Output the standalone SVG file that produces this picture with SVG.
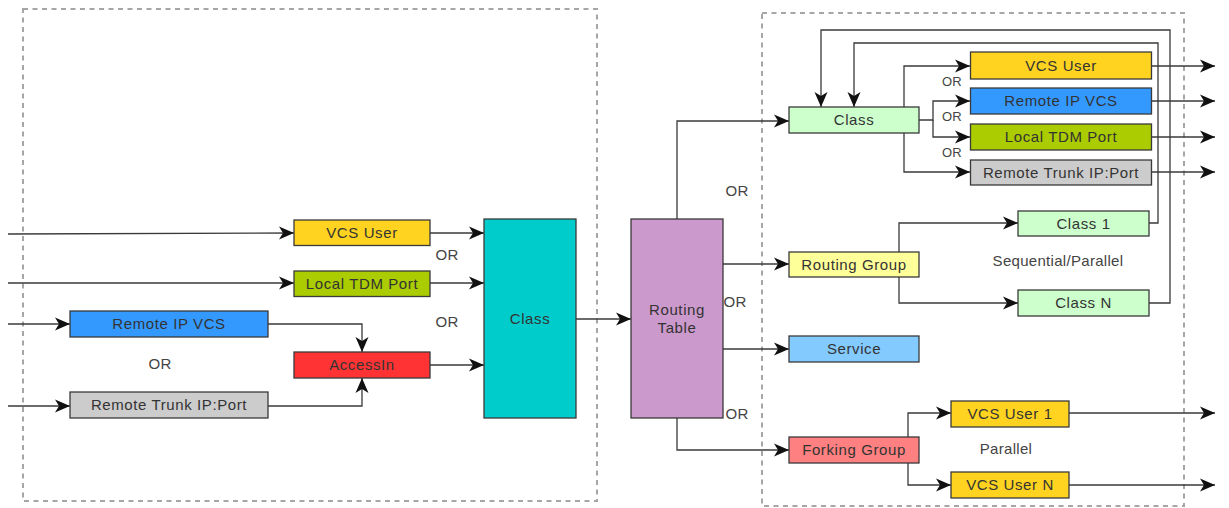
<svg xmlns="http://www.w3.org/2000/svg" width="1229" height="508" viewBox="0 0 1229 508">
  <style>
    .frame { fill: none; stroke: #a6a6a6; stroke-width: 2; stroke-dasharray: 5 4.5; }
    .box { stroke: #3a3a3a; stroke-width: 1.3; }
    .lbl { font-family: "Liberation Sans", Arial, sans-serif; font-size: 15px; fill: #333333; text-anchor: middle; letter-spacing: 0.6px; }
    .note { font-family: "Liberation Sans", Arial, sans-serif; font-size: 15px; fill: #444444; text-anchor: middle; letter-spacing: 0.3px; }
    .small { font-size: 13px; }
    .wire { fill: none; stroke: #3a3a3a; stroke-width: 1.3; }
    .wire.arr { marker-end: url(#head); }
  </style>
  <defs>
    <!-- notched solid arrowhead shared by every connector -->
    <marker id="head" markerUnits="userSpaceOnUse" markerWidth="16" markerHeight="14" refX="15" refY="7" orient="auto">
      <path d="M0,0.5 L15,7 L0,13.5 L4,7 Z" fill="#111111"/>
    </marker>
  </defs>

  <rect width="1229" height="508" fill="#ffffff"/>

  <!-- dashed frames -->
  <rect class="frame" x="23" y="9" width="574" height="492"/>
  <rect class="frame" x="762" y="13" width="422" height="493"/>

  <!-- connectors -->
  <g id="connectors">
    <path class="wire arr" d="M8,234 L294,233"/>
    <path class="wire arr" d="M8,283 H294"/>
    <path class="wire arr" d="M8,324 H70"/>
    <path class="wire arr" d="M8,406 H70"/>
    <path class="wire arr" d="M268,324 H362 V352"/>
    <path class="wire arr" d="M268,406 H362 V378"/>
    <path class="wire arr" d="M430,233 H484"/>
    <path class="wire arr" d="M430,283 H484"/>
    <path class="wire arr" d="M430,365 H484"/>
    <path class="wire arr" d="M576,319 H631"/>

    <path class="wire arr" d="M677,219 V121 H789"/>
    <path class="wire arr" d="M723,264 H789"/>
    <path class="wire arr" d="M723,349 H789"/>
    <path class="wire arr" d="M677,418 V450 H789"/>

    <path class="wire arr" d="M904,107 V66 H970"/>
    <path class="wire arr" d="M919,120 H933 V101 H970"/>
    <path class="wire arr" d="M933,120 V137 H970"/>
    <path class="wire arr" d="M904,133 V172 H970"/>

    <path class="wire arr" d="M1152,66 H1215"/>
    <path class="wire arr" d="M1152,101 H1215"/>
    <path class="wire arr" d="M1152,137 H1215"/>
    <path class="wire arr" d="M1152,172 H1215"/>

    <path class="wire arr" d="M1149,223 H1158 V43 H854 V107"/>
    <path class="wire arr" d="M1149,303 H1170 V30 H821 V107"/>

    <path class="wire arr" d="M899,252 V223 H1018"/>
    <path class="wire arr" d="M899,277 V303 H1018"/>

    <path class="wire arr" d="M908,437 V413 H951"/>
    <path class="wire arr" d="M908,463 V485 H951"/>
    <path class="wire arr" d="M1069,413 H1215"/>
    <path class="wire arr" d="M1069,485 H1215"/>
  </g>

  <!-- left side nodes -->
  <g id="in-vcs-user">
    <rect class="box" x="294" y="220" width="136" height="25.5" fill="#ffd320"/>
    <text class="lbl" x="362" y="238">VCS User</text>
  </g>
  <g id="in-local-tdm">
    <rect class="box" x="294" y="271" width="136" height="25.5" fill="#aacc00"/>
    <text class="lbl" x="362" y="289">Local TDM Port</text>
  </g>
  <g id="in-remote-ip">
    <rect class="box" x="70" y="311" width="198" height="26" fill="#3399ff"/>
    <text class="lbl" x="169" y="329">Remote IP VCS</text>
  </g>
  <g id="in-remote-trunk">
    <rect class="box" x="70" y="392" width="198" height="26" fill="#cccccc"/>
    <text class="lbl" x="169" y="410">Remote Trunk IP:Port</text>
  </g>
  <g id="access-in">
    <rect class="box" x="294" y="352" width="136" height="26" fill="#ff3333"/>
    <text class="lbl" x="362" y="370">AccessIn</text>
  </g>
  <g id="class-main">
    <rect class="box" x="484" y="219" width="92" height="199" fill="#00cccc"/>
    <text class="lbl" x="530" y="324">Class</text>
  </g>
  <g id="routing-table">
    <rect class="box" x="631" y="219" width="92" height="199" fill="#cc99cc"/>
    <text class="lbl" x="677" y="315">Routing</text>
    <text class="lbl" x="677" y="333">Table</text>
  </g>

  <!-- right side nodes -->
  <g id="class-top">
    <rect class="box" x="789" y="107" width="130" height="26" fill="#ccffcc"/>
    <text class="lbl" x="854" y="125">Class</text>
  </g>
  <g id="out-vcs-user">
    <rect class="box" x="970.5" y="52" width="181" height="27" fill="#ffd320"/>
    <text class="lbl" x="1061" y="71">VCS User</text>
  </g>
  <g id="out-remote-ip">
    <rect class="box" x="970.5" y="88" width="181" height="26" fill="#3399ff"/>
    <text class="lbl" x="1061" y="106">Remote IP VCS</text>
  </g>
  <g id="out-local-tdm">
    <rect class="box" x="970.5" y="124" width="181" height="26" fill="#aacc00"/>
    <text class="lbl" x="1061" y="142">Local TDM Port</text>
  </g>
  <g id="out-remote-trunk">
    <rect class="box" x="970.5" y="160" width="181" height="25" fill="#cccccc"/>
    <text class="lbl" x="1061" y="177.5">Remote Trunk IP:Port</text>
  </g>
  <g id="routing-group">
    <rect class="box" x="789" y="252" width="130" height="25" fill="#ffff99"/>
    <text class="lbl" x="854" y="269.5">Routing Group</text>
  </g>
  <g id="class-1">
    <rect class="box" x="1018" y="211" width="131" height="25" fill="#ccffcc"/>
    <text class="lbl" x="1083.5" y="228.5">Class 1</text>
  </g>
  <g id="class-n">
    <rect class="box" x="1018" y="290" width="131" height="26" fill="#ccffcc"/>
    <text class="lbl" x="1083.5" y="308">Class N</text>
  </g>
  <g id="service">
    <rect class="box" x="789" y="336" width="130" height="26" fill="#83caff"/>
    <text class="lbl" x="854" y="354">Service</text>
  </g>
  <g id="forking-group">
    <rect class="box" x="789" y="437" width="130" height="26" fill="#ff8080"/>
    <text class="lbl" x="854" y="455">Forking Group</text>
  </g>
  <g id="vcs-user-1">
    <rect class="box" x="951" y="401" width="118" height="26" fill="#ffd320"/>
    <text class="lbl" x="1010" y="419">VCS User 1</text>
  </g>
  <g id="vcs-user-n">
    <rect class="box" x="951" y="472" width="118" height="26" fill="#ffd320"/>
    <text class="lbl" x="1010" y="490">VCS User N</text>
  </g>

  <!-- free labels -->
  <g id="labels">
    <text class="note" x="447" y="260">OR</text>
    <text class="note" x="447" y="327">OR</text>
    <text class="note" x="160" y="369">OR</text>
    <text class="note" x="737" y="196">OR</text>
    <text class="note" x="735" y="307">OR</text>
    <text class="note" x="737" y="419">OR</text>
    <text class="note small" x="952" y="86">OR</text>
    <text class="note small" x="952" y="121">OR</text>
    <text class="note small" x="952" y="157">OR</text>
    <text class="note" x="1058" y="266">Sequential/Parallel</text>
    <text class="note" x="1006" y="454">Parallel</text>
  </g>
</svg>
